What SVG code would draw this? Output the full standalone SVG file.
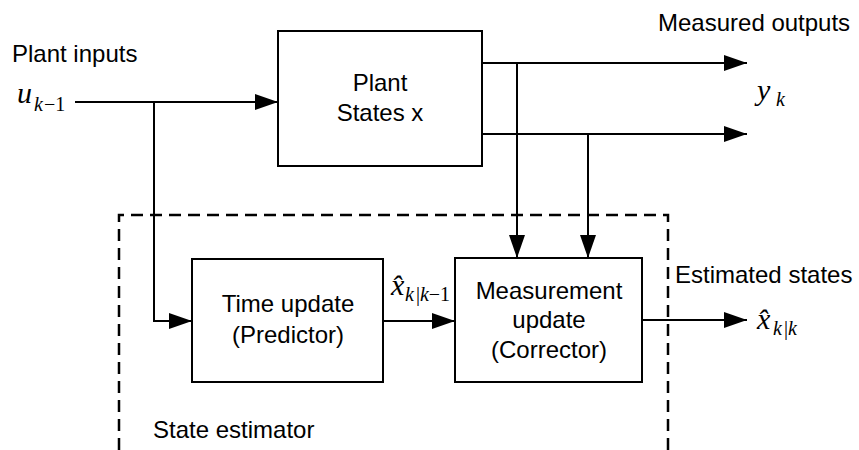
<svg xmlns="http://www.w3.org/2000/svg" width="859" height="450" viewBox="0 0 859 450">
<defs>
<marker id="ah" markerUnits="userSpaceOnUse" markerWidth="23" markerHeight="16" refX="23" refY="8" orient="auto">
<path d="M0,0 L23,8 L0,16 z" fill="#000"/>
</marker>
<style>
.box{fill:#fff;stroke:#000;stroke-width:2}
.ln{fill:none;stroke:#000;stroke-width:2}
.t{font-family:"Liberation Sans",Arial,sans-serif;font-size:24px;fill:#000}
.c{text-anchor:middle}
.m{font-family:"Liberation Serif","Times New Roman",serif;font-style:italic;font-size:30px;fill:#000}
.s{font-size:20px}
.up{font-style:normal}
</style>
</defs>
<rect width="859" height="450" fill="#fff"/>
<g id="estimator">
<path d="M119,450 V215 H668 V450" fill="none" stroke="#000" stroke-width="2.5" stroke-dasharray="12 7"/>
<text class="t" x="153" y="438">State estimator</text>
</g>
<g id="connectors">
<path class="ln" d="M75,102 H278" marker-end="url(#ah)"/>
<path class="ln" d="M154,102 V321 H192" marker-end="url(#ah)"/>
<path class="ln" d="M482,63 H747" marker-end="url(#ah)"/>
<path class="ln" d="M482,134 H747" marker-end="url(#ah)"/>
<path class="ln" d="M517,63 V258" marker-end="url(#ah)"/>
<path class="ln" d="M588,134 V258" marker-end="url(#ah)"/>
<path class="ln" d="M383,321 H455" marker-end="url(#ah)"/>
<path class="ln" d="M642,320 H747" marker-end="url(#ah)"/>
</g>
<g id="plant">
<rect class="box" x="278" y="31" width="204" height="135"/>
<text class="t c" x="380" y="91">Plant</text>
<text class="t c" x="380" y="121">States x</text>
</g>
<g id="time-update">
<rect class="box" x="192" y="259" width="191" height="123"/>
<text class="t c" x="288" y="312">Time update</text>
<text class="t c" x="288" y="343">(Predictor)</text>
</g>
<g id="measurement-update">
<rect class="box" x="455" y="258" width="187" height="124"/>
<text class="t c" x="549" y="299">Measurement</text>
<text class="t c" x="549" y="328">update</text>
<text class="t c" x="549" y="358">(Corrector)</text>
</g>
<g id="labels">
<text class="t" x="12" y="62">Plant inputs</text>
<text class="t" x="658" y="31">Measured outputs</text>
<text class="t" x="675" y="283">Estimated states</text>
<text class="m" x="17" y="103">u<tspan class="s" x="34" y="111">k</tspan><tspan class="s up" dx="1">−1</tspan></text>
<text class="m" x="757" y="100">y<tspan class="s" x="776" y="106">k</tspan></text>
<text class="m" x="391" y="295">x&#x302;<tspan class="s" x="405" y="301">k</tspan><tspan class="s up" dx="2">|</tspan><tspan class="s">k</tspan><tspan class="s up">−1</tspan></text>
<text class="m" x="757" y="329">x&#x302;<tspan class="s" x="773" y="335">k</tspan><tspan class="s up" dx="2">|</tspan><tspan class="s">k</tspan></text>
</g>
</svg>
